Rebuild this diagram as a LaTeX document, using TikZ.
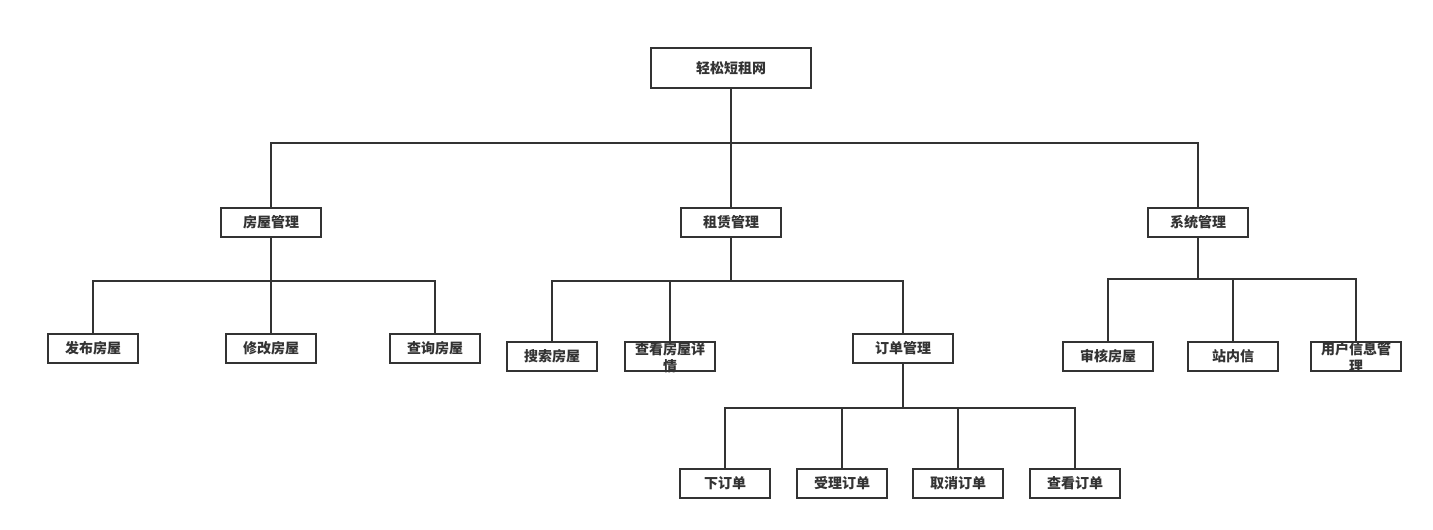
\documentclass[tikz,border=0pt]{standalone}
\usepackage{fontspec}
\newfontfamily\cjk{Noto Sans CJK SC}
\definecolor{ink}{HTML}{333333}
\tikzset{
  box/.style={draw=ink, line width=2pt, fill=white, inner sep=0pt,
    minimum width=90pt, minimum height=29pt, text=ink,
    font=\cjk\bfseries\fontsize{14}{17}\selectfont},
  midbox/.style={box, minimum width=100pt},
  rootbox/.style={box, minimum width=160pt, minimum height=40pt},
  conn/.style={draw=ink, line width=2pt}
}
\newcommand{\twoline}[2]{\raisebox{-15pt}[0pt][0pt]{\parbox[b]{80pt}{\centering #1\\#2}}}
\begin{document}
\begin{tikzpicture}[x=1pt,y=-1pt]
\useasboundingbox (0,0) rectangle (1433,530);
% nodes
\node[rootbox] (root) at (731,68) {轻松短租网};
\node[midbox] (fw) at (271,222) {房屋管理};
\node[midbox] (zl) at (731,222) {租赁管理};
\node[midbox] (xt) at (1198,222) {系统管理};
\node[box] (fb) at (93,348) {发布房屋};
\node[box] (xg) at (271,348) {修改房屋};
\node[box] (cx) at (435,348) {查询房屋};
\node[box] (ss) at (552,356) {搜索房屋};
\node[box] (ck) at (670,356) {\twoline{查看房屋详}{情}};
\node[midbox] (dd) at (903,348) {订单管理};
\node[box] (xd) at (725,483) {下订单};
\node[box] (sl) at (842,483) {受理订单};
\node[box] (qx) at (958,483) {取消订单};
\node[box] (ckd) at (1075,483) {查看订单};
\node[box] (sh) at (1108,356) {审核房屋};
\node[box] (zn) at (1233,356) {站内信};
\node[box] (yh) at (1356,356) {\twoline{用户信息管}{理}};
% bus coordinates
\coordinate (b1) at (0,143);
\coordinate (b2) at (0,281);
\coordinate (b3) at (0,281);
\coordinate (b4) at (0,408);
\coordinate (b5) at (0,279);
% connectors
\draw[conn] (root.south) -- (zl.north);
\draw[conn] (fw.north) -- (fw.north |- b1) -| (xt.north);
\draw[conn] (fw.south) -- (xg.north);
\draw[conn] (fb.north) -- (fb.north |- b2) -| (cx.north);
\draw[conn] (zl.south) -- (zl.south |- b3);
\draw[conn] (ss.north) -- (ss.north |- b3) -| (dd.north);
\draw[conn] (ck.north) -- (ck.north |- b3);
\draw[conn] (dd.south) -- (dd.south |- b4);
\draw[conn] (xd.north) -- (xd.north |- b4) -| (ckd.north);
\draw[conn] (sl.north) -- (sl.north |- b4);
\draw[conn] (qx.north) -- (qx.north |- b4);
\draw[conn] (xt.south) -- (xt.south |- b5);
\draw[conn] (sh.north) -- (sh.north |- b5) -| (yh.north);
\draw[conn] (zn.north) -- (zn.north |- b5);
\end{tikzpicture}
\end{document}
